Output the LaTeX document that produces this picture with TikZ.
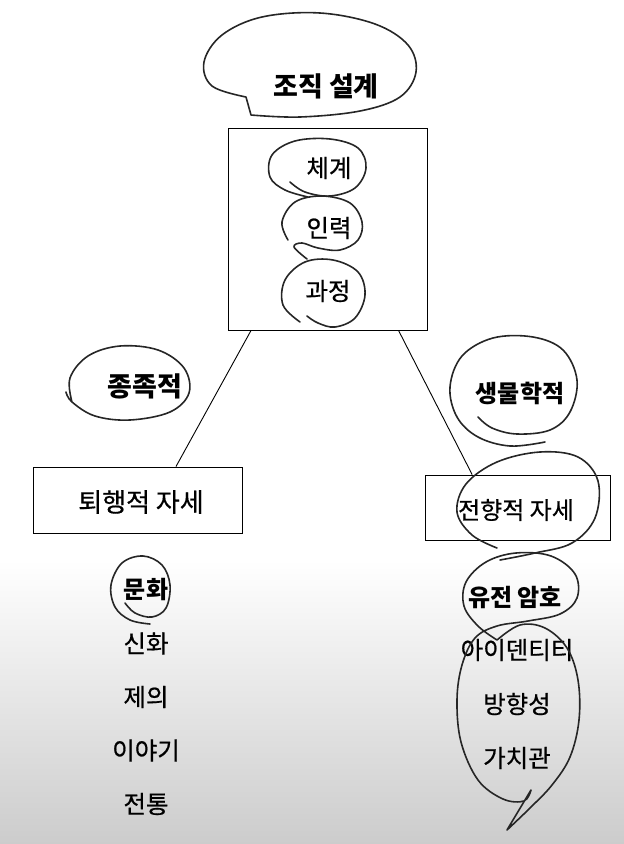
\documentclass[tikz,border=0pt]{standalone}
\usepackage{fontspec}
\setmainfont{Noto Sans CJK KR}
\newfontfamily\krmid[FakeBold=0.6]{Noto Sans CJK KR}
\tikzset{
  box/.style={draw, line width=0.9pt, inner sep=0pt},
  word/.style={font=\krmid\fontsize{24.5}{27}\selectfont, inner sep=1pt},
  keyword/.style={font=\fontsize{24}{26}\selectfont\bfseries, inner sep=1pt},
  pen/.style={line width=1.6pt, black!85, line cap=round, line join=round},
  link/.style={line width=0.9pt},
}
\begin{document}
\begin{tikzpicture}[x=1pt,y=-1pt]
  \useasboundingbox (0,0) rectangle (624,844);
  \shade[top color=white, bottom color=black!20] (0,560) rectangle (624,844);

  % boxes
  \node[box, minimum width=199pt, minimum height=202pt] (design) at (327.5,229) {};
  \node[box, minimum width=209pt, minimum height=66pt] (backward) at (137.5,500) {};
  \node[box, minimum width=185pt, minimum height=65pt] (forward) at (517.5,507.5) {};
  \draw[link] (design.233.2) -- (backward.41.3);
  \draw[link] (design.305.7) -- (forward.144.5);

  % texts
  \node[keyword, font=\fontsize{27}{30}\selectfont\bfseries] (title) at (326,86) {조직 설계};
  \node[word] (system) at (329,168) {체계};
  \node[word] (staff) at (329,228) {인력};
  \node[word] (process) at (328,291) {과정};
  \node[keyword, font=\fontsize{27}{30}\selectfont\bfseries] (tribal) at (145,386) {종족적};
  \node[keyword] (biology) at (520,393) {생물학적};
  \node[word, font=\krmid\fontsize{26}{28}\selectfont] at (141,502) (backtext) {퇴행적 자세};
  \node[word, font=\krmid\fontsize{24}{26}\selectfont] at (516,510) (fortext) {전향적 자세};
  \node[keyword] (culture) at (146,590) {문화};
  \foreach \w [count=\i] in {신화,제의,이야기,전통}
    \node[word] (left\i) at (146,590+\i*53.5) {\w};
  \node[keyword] (code) at (515,598) {유전 암호};
  \foreach \w [count=\i] in {아이덴티티,방향성,가치관}
    \node[word] (right\i) at (517,596+\i*54) {\w};

  % pen marks
  \draw[pen] plot[smooth, tension=0.6] coordinates {(251,115) (300,117) (360,111) (400,97) (416,72) (408,45) (375,24) (320,13) (262,17) (222,35) (204,62) (212,86) (246,97)} -- (251,115);
  \draw[pen] plot[smooth, tension=0.6] coordinates {(290,182) (305,192) (330,196) (355,188) (366,168) (358,148) (330,139) (295,141) (272,155) (270,177) (285,190) (308,197)};
  \draw[pen] plot[smooth, tension=0.6] coordinates {(307,259) (294,247) (302,243) (318,248) (340,250) (358,240) (362,222) (350,203) (322,196) (295,202) (282,222) (288,240)};
  \draw[pen] plot[smooth, tension=0.6] coordinates {(307,316) (318,323) (335,327) (355,318) (365,295) (358,272) (333,260) (305,262) (285,280) (283,305) (300,322)};
  \draw[pen] plot[smooth, tension=0.6] coordinates {(72,402) (70,378) (88,356) (120,346) (158,350) (184,368) (189,393) (170,412) (130,420) (95,416) (72,402) (66,392)};
  \draw[pen] plot[smooth, tension=0.6] coordinates {(478,417) (492,428) (517,434) (550,430) (570,412) (577,380) (563,350) (533,337) (493,338) (462,356) (450,387) (457,417) (478,437) (510,446) (545,442)};
  \draw[pen] plot[smooth, tension=0.6] coordinates {(497,548) (472,535) (457,512) (466,484) (497,462) (540,452) (578,457) (598,481) (595,518) (572,543) (535,553) (500,560)};
  \draw[pen] plot[smooth, tension=0.6] coordinates {(125,603) (135,613) (152,617) (166,608) (170,585) (162,565) (143,556) (122,563) (111,585) (115,607) (130,620) (150,624)};
  \draw[pen] plot[smooth, tension=0.6] coordinates {(497,640) (478,626) (464,606) (466,582) (486,562) (516,553) (551,556) (575,574) (577,598) (560,614) (528,621) (497,626) (475,638) (462,665) (457,700) (461,742) (478,780) (503,799) (524,801) (531,790)} -- (507,830)
    -- plot[smooth, tension=0.6] coordinates {(507,830) (530,808) (552,785) (570,757) (579,720) (578,680) (567,648) (545,628) (520,625) (497,640)};
\end{tikzpicture}
\end{document}
